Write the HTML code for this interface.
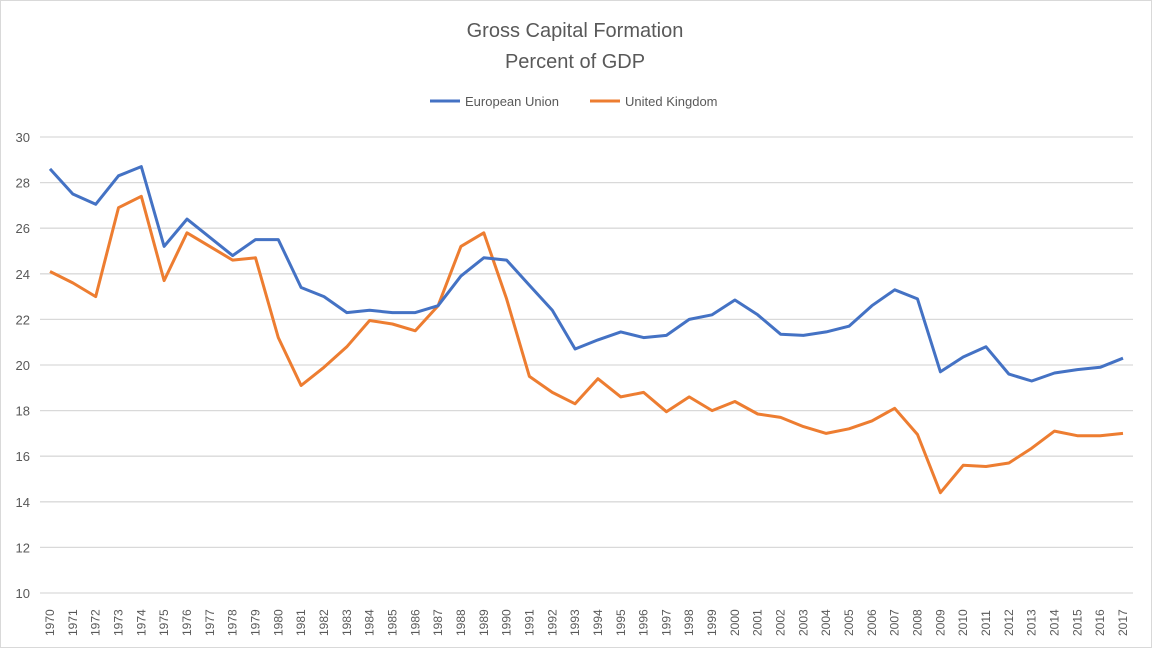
<!DOCTYPE html>
<html><head><meta charset="utf-8"><style>
html,body{margin:0;padding:0;background:#fff;}
svg{display:block;font-family:"Liberation Sans",sans-serif;}
</style></head><body>
<svg id="c" width="1152" height="648" xmlns="http://www.w3.org/2000/svg">
<rect x="0.5" y="0.5" width="1151" height="647" fill="#fff" stroke="#d9d9d9"/>
<text x="575" y="37" text-anchor="middle" font-size="20" fill="#595959">Gross Capital Formation</text>
<text x="575" y="68" text-anchor="middle" font-size="20" fill="#595959">Percent of GDP</text>
<line x1="430" y1="101" x2="460" y2="101" stroke="#4472c4" stroke-width="3"/>
<text x="465" y="106" font-size="13" fill="#595959">European Union</text>
<line x1="590" y1="101" x2="620" y2="101" stroke="#ed7d31" stroke-width="3"/>
<text x="625" y="106" font-size="13" fill="#595959">United Kingdom</text>
<g id="g"></g>
</svg>
<script>
var eu=[28.6,27.5,27.05,28.3,28.7,25.2,26.4,25.6,24.8,25.5,25.5,23.4,23.0,22.3,22.4,22.3,22.3,22.6,23.9,24.7,24.6,23.5,22.4,20.7,21.1,21.45,21.2,21.3,22.0,22.2,22.85,22.2,21.35,21.3,21.45,21.7,22.6,23.3,22.9,19.7,20.35,20.8,19.6,19.3,19.65,19.8,19.9,20.3];
var uk=[24.1,23.6,23.0,26.9,27.4,23.7,25.8,25.2,24.6,24.7,21.2,19.1,19.9,20.8,21.95,21.8,21.5,22.6,25.2,25.8,22.9,19.5,18.8,18.3,19.4,18.6,18.8,17.95,18.6,18.0,18.4,17.85,17.7,17.3,17.0,17.2,17.55,18.1,16.95,14.4,15.6,15.55,15.7,16.35,17.1,16.9,16.9,17.0];
function X(i){return 50+i*22.83;}
function Y(v){return 593-(v-10)*22.8;}
var s='';
for(var v=10;v<=30;v+=2){var y=Y(v);
s+='<line x1="40" x2="1133" y1="'+y+'" y2="'+y+'" stroke="#d9d9d9" stroke-width="1.3"/>';
s+='<text x="30" y="'+(y+5)+'" text-anchor="end" font-size="13" fill="#595959">'+v+'</text>';}
for(var i=0;i<48;i++){var x=X(i)+4;
s+='<text transform="translate('+x+',636) rotate(-90)" font-size="12" fill="#595959">'+(1970+i)+'</text>';}
function pl(d,c){return '<polyline fill="none" stroke="'+c+'" stroke-width="3" stroke-linejoin="round" points="'+d.map(function(v,i){return X(i).toFixed(1)+','+Y(v).toFixed(1);}).join(' ')+'"/>';}
s+=pl(uk,'#ed7d31')+pl(eu,'#4472c4');
document.getElementById('g').innerHTML=s;
</script>
</body></html>
